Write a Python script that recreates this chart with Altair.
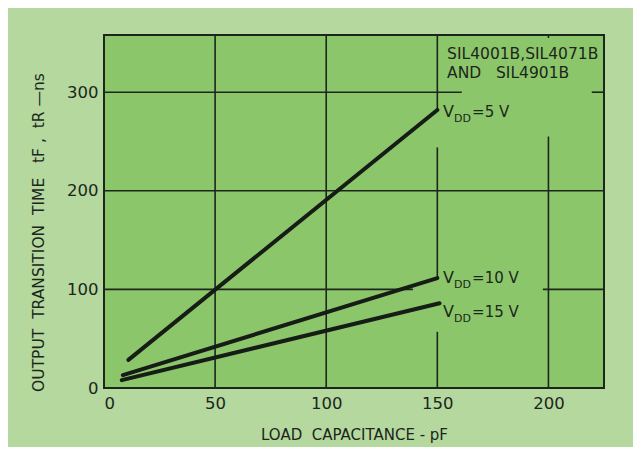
import altair as alt
import pandas as pd

# ---- data ----
series = ["5", "10", "15"]
cap_start = [11, 8.5, 8]
cap_end = [150, 150, 151]
t_start = [28.5, 13, 8]
t_end = [282, 111.5, 86]

label_x = [152.6, 152.6, 152.6]
label_y = [280, 111.5, 77]

x_ticks = [0, 50, 100, 150, 200]
y_ticks = [0, 100, 200, 300]

# grid segments (data coordinates)
grid_x1 = [50, 100, 150, 150, 150, 200, 200, 0, 0, 219.5, 0, 197.5]
grid_x2 = [50, 100, 150, 150, 150, 200, 200, 225, 161, 225, 139, 225]
grid_y1 = [0, 0, 282, 112, 0, 0, 355, 200, 300, 300, 100, 100]
grid_y2 = [358, 358, 358, 244, 57, 255, 358, 200, 300, 300, 100, 100]

NB = "\u00a0"
note_lines = ["SIL4001B,SIL4071B", "AND" + NB + NB + " SIL4901B"]
note_x = [154.4, 154.4]
note_y = [339, 319.5]

# ---- tables ----
lines_df = pd.DataFrame({
    "series": series + series,
    "cap": cap_start + cap_end,
    "t": t_start + t_end,
})
grid_df = pd.DataFrame({"x1": grid_x1, "x2": grid_x2, "y1": grid_y1, "y2": grid_y2})
lab_df = pd.DataFrame({"series": series, "x": label_x, "y": label_y,
                       "rest": ["=" + s + " V" for s in series]})
note_df = pd.DataFrame({"txt": note_lines, "x": note_x, "y": note_y})

FONT = "DejaVu Sans"
INK = "#1c261c"
xs = alt.Scale(domain=[0, 225], nice=False, zero=False)
ys = alt.Scale(domain=[0, 358], nice=False, zero=False)

grid = alt.Chart(grid_df).mark_rule(color=INK, strokeWidth=1.6).encode(
    x=alt.X("x1:Q", scale=xs,
            axis=alt.Axis(values=x_ticks, grid=False, ticks=False, domain=False,
                          labelFontSize=16.5, labelPadding=7, labelColor=INK,
                          labelFont=FONT, title="LOAD" + NB + NB + "CAPACITANCE - pF",
                          titleFont=FONT, titleFontSize=15, titleFontWeight="normal",
                          titleColor=INK, titlePadding=16)),
    x2="x2:Q",
    y=alt.Y("y1:Q", scale=ys,
            axis=alt.Axis(values=y_ticks, grid=False, ticks=False, domain=False,
                          labelFontSize=16.5, labelPadding=6, labelColor=INK,
                          labelFont=FONT,
                          title="OUTPUT" + NB + NB + "TRANSITION" + NB + NB + "TIME"
                                + NB + NB + NB + "tF" + NB + "," + NB + NB + "tR" + NB + "\u2014ns",
                          titleFont=FONT, titleFontSize=15.5, titleFontWeight="normal",
                          titleColor=INK, titleX=-66, titleY=197,
                          titleBaseline="middle")),
    y2="y2:Q",
)

lines = alt.Chart(lines_df).mark_line(color="#161c16", strokeWidth=4, strokeCap="round").encode(
    x=alt.X("cap:Q", scale=xs),
    y=alt.Y("t:Q", scale=ys),
    detail="series:N",
)

v_txt = alt.Chart(lab_df).mark_text(align="left", baseline="middle", font=FONT,
                                    fontSize=16, color=INK).encode(
    x=alt.X("x:Q", scale=xs), y=alt.Y("y:Q", scale=ys), text=alt.value("V"))
dd_txt = alt.Chart(lab_df).mark_text(align="left", baseline="middle", font=FONT,
                                     fontSize=11, color=INK, dx=11, dy=7).encode(
    x=alt.X("x:Q", scale=xs), y=alt.Y("y:Q", scale=ys), text=alt.value("DD"))
rest_txt = alt.Chart(lab_df).mark_text(align="left", baseline="middle", font=FONT,
                                       fontSize=15, color=INK, dx=29).encode(
    x=alt.X("x:Q", scale=xs), y=alt.Y("y:Q", scale=ys), text="rest:N")

note = alt.Chart(note_df).mark_text(align="left", baseline="middle", font=FONT,
                                    fontSize=15.5, color=INK).encode(
    x=alt.X("x:Q", scale=xs), y=alt.Y("y:Q", scale=ys), text="txt:N")

chart = alt.layer(grid, lines, v_txt, dd_txt, rest_txt, note).properties(
    width=500, height=353,
    autosize=alt.AutoSizeParams(type="none"),
    padding={"left": 96, "top": 27, "right": 29, "bottom": 59},
    background="#b4d89d",
).configure_view(
    fill="#8cc66a", stroke=INK, strokeWidth=2
)

chart.save("out.html", embed_options={"renderer": "svg", "actions": False})
